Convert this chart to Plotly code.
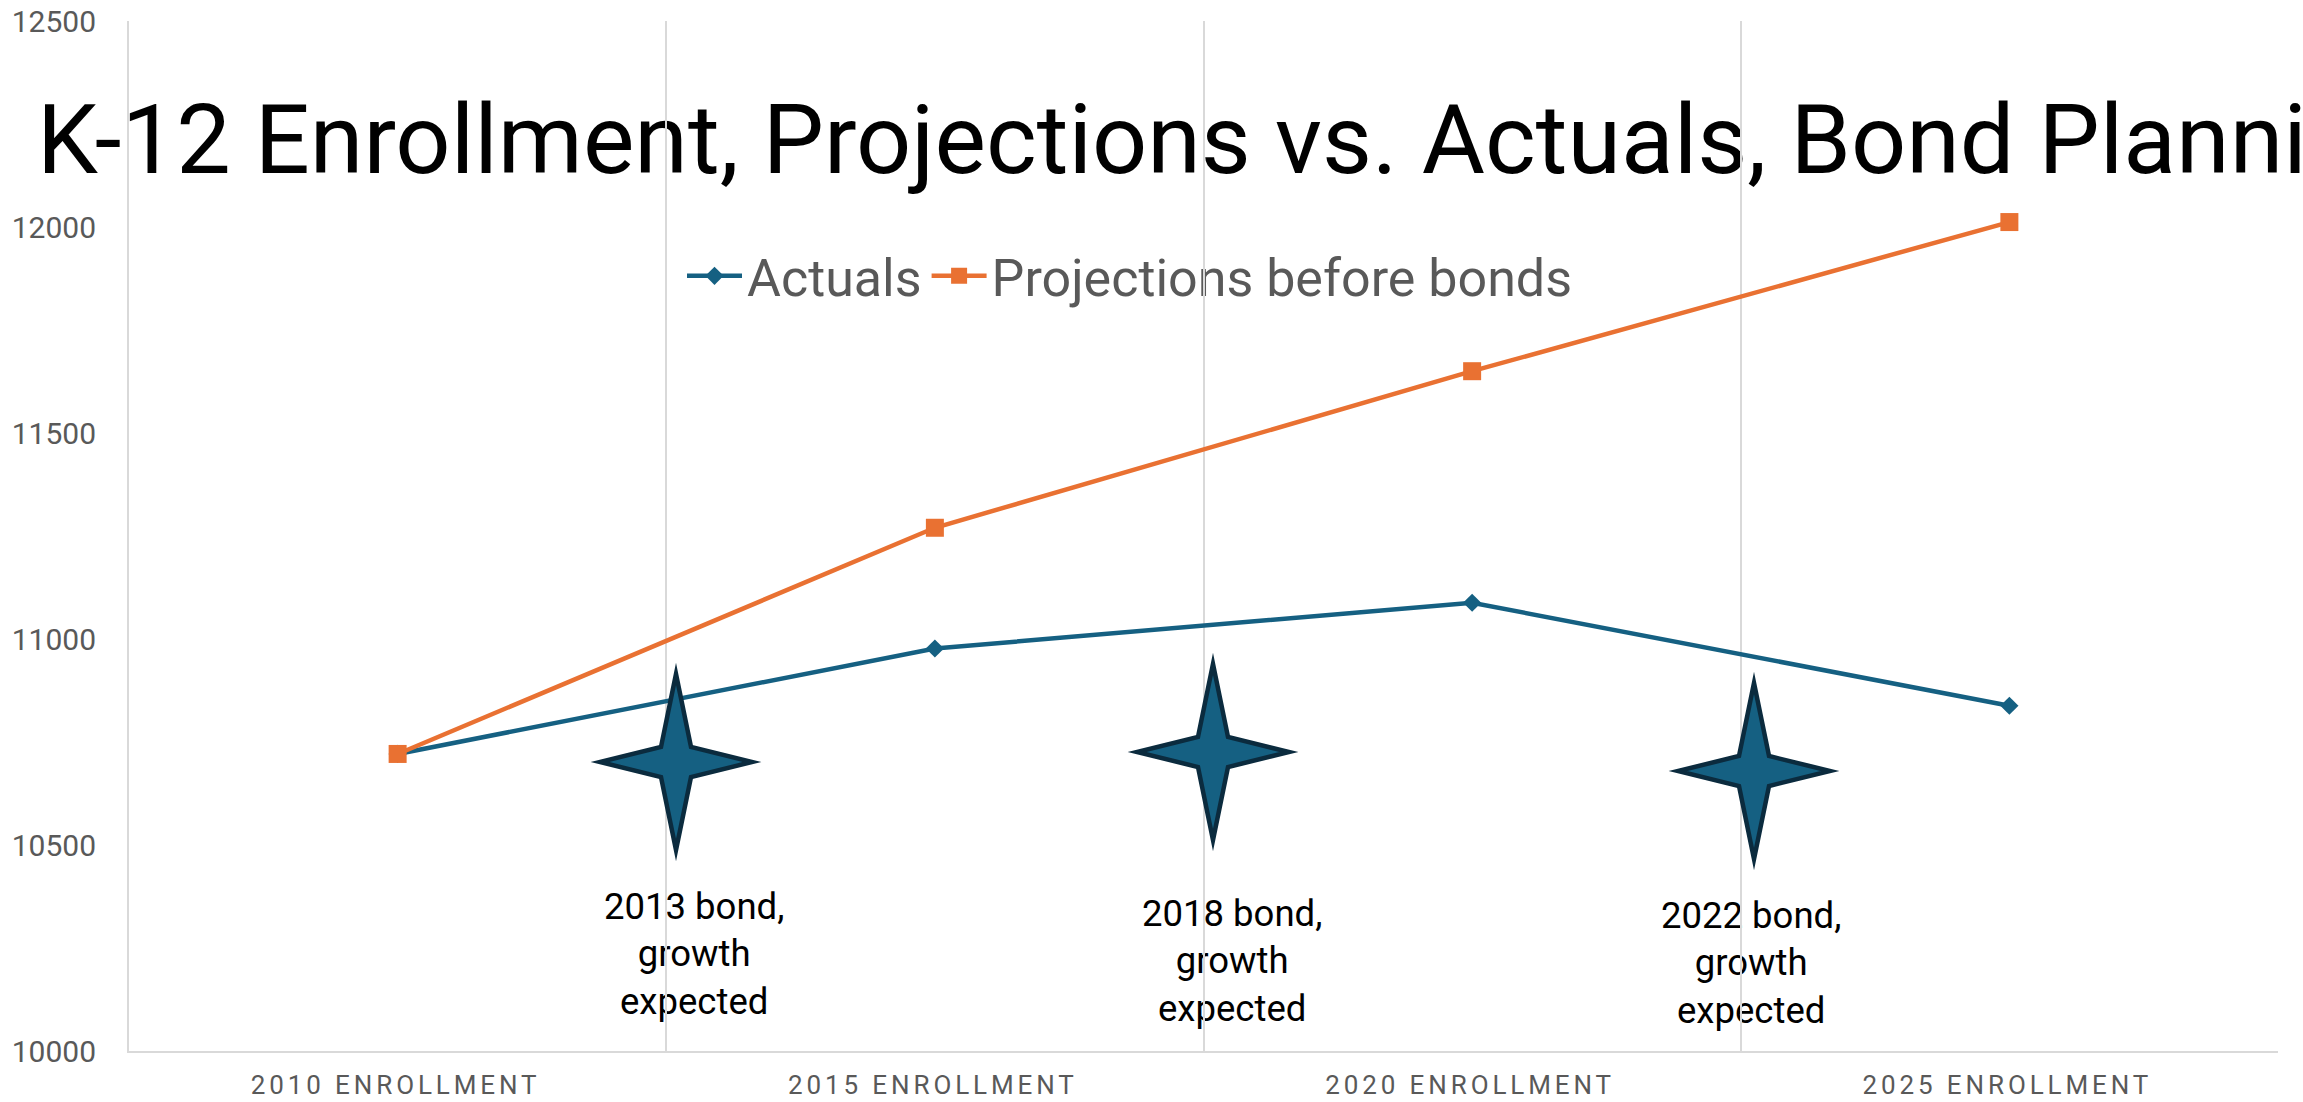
import plotly.graph_objects as go

W, H = 2303, 1102
PLOT_L, PLOT_R, PLOT_T, PLOT_B = 129, 2278, 21, 1051

categories = ["2010 ENROLLMENT", "2015 ENROLLMENT", "2020 ENROLLMENT", "2025 ENROLLMENT"]
actuals = [10721, 10977, 11088, 10838]
projections = [10721, 11270, 11650, 12012]
y_ticks = [10000, 10500, 11000, 11500, 12000, 12500]
bond_labels = ["2013 bond,<br>growth<br>expected", "2018 bond,<br>growth<br>expected", "2022 bond,<br>growth<br>expected"]
star_centers = [(676, 762), (1213, 752), (1754, 771)]
label_centers = [(694, 954), (1232, 961), (1751, 963)]

FONT = "Roboto"
GREY = "#595959"


# Page pixels to paper fractions of the plot area
def px(x):
    return (x - PLOT_L) / (PLOT_R - PLOT_L)


def py(y):
    return (PLOT_B - y) / (PLOT_B - PLOT_T)


def star_path(cx, cy, rx=76, ry=88, inner=15):
    pts = [(cx, cy - ry), (cx + inner, cy - inner), (cx + rx, cy), (cx + inner, cy + inner),
           (cx, cy + ry), (cx - inner, cy + inner), (cx - rx, cy), (cx - inner, cy - inner)]
    return "M " + " L ".join(f"{px(x):.5f},{py(y):.5f}" for x, y in pts) + " Z"


fig = go.Figure()
fig.add_trace(go.Scatter(x=categories, y=actuals, name="Actuals", mode="lines+markers",
                         line=dict(color="#156082", width=4.5),
                         marker=dict(symbol="diamond", size=14, color="#156082")))
fig.add_trace(go.Scatter(x=categories, y=projections, name="Projections before bonds", mode="lines+markers",
                         line=dict(color="#E97132", width=4.5),
                         marker=dict(symbol="square", size=18, color="#E97132")))

shapes = [dict(type="path", xref="paper", yref="paper", path=star_path(cx, cy), layer="above",
               fillcolor="#156082", line=dict(color="#0B2B3E", width=4.5))
          for cx, cy in star_centers]

annotations = [dict(xref="paper", yref="paper", x=px(x), y=py(y), text=t, showarrow=False,
                    xanchor="center", yanchor="middle", align="center",
                    font=dict(family=FONT, size=36.5, color="#000000"))
               for (x, y), t in zip(label_centers, bond_labels)]

fig.update_layout(
    width=W, height=H, autosize=False,
    margin=dict(l=PLOT_L, r=W - PLOT_R, t=PLOT_T, b=H - PLOT_B, pad=0),
    paper_bgcolor="white", plot_bgcolor="white",
    title=dict(text="K-12 Enrollment, Projections vs. Actuals, Bond Planning", xref="container", yref="container",
               x=37 / W, xanchor="left", y=1 - 139 / H, yanchor="middle",
               font=dict(family=FONT, size=97, color="#000000")),
    legend=dict(orientation="h", x=px(682), y=py(276), xanchor="left", yanchor="middle",
                font=dict(family=FONT, size=52, color=GREY), itemwidth=55, bgcolor="rgba(0,0,0,0)",
                traceorder="normal"),
    shapes=shapes, annotations=annotations,
    xaxis=dict(type="category", categoryorder="array", categoryarray=categories, range=[-0.5, 3.5],
               tickson="boundaries", showgrid=True, gridcolor="#D9D9D9", gridwidth=2, ticklen=0,
               showline=True, linecolor="#D9D9D9", linewidth=2, zeroline=False, automargin=False,
               tickfont=dict(family=FONT, size=26, color=GREY), ticklabelstandoff=10, ticklabelshift=-2),
    yaxis=dict(range=[10000, 12500], tickmode="array", tickvals=y_ticks, tickformat="d", showgrid=False, ticklen=0,
               showline=True, linecolor="#D9D9D9", linewidth=2, zeroline=False, automargin=False,
               tickfont=dict(family=FONT, size=30, color=GREY), ticklabelstandoff=25),
)

# Spaced category labels, sharp star tips, and gridlines running over the text
finish = """
var gd = document.getElementById('{plot_id}');
gd.querySelectorAll('.xtick text').forEach(function (t) { t.style.letterSpacing = '3.9px'; });
gd.querySelectorAll('.shapelayer path').forEach(function (p) { p.style.strokeMiterlimit = '20'; });
var base = gd.querySelector('.main-svg');
var cart = base.querySelector('.cartesianlayer');
gd.querySelectorAll('.g-gtitle, .annotation, .legend').forEach(function (n) { base.insertBefore(n, cart); });
"""
fig.write_html("out.html", post_script=finish)
